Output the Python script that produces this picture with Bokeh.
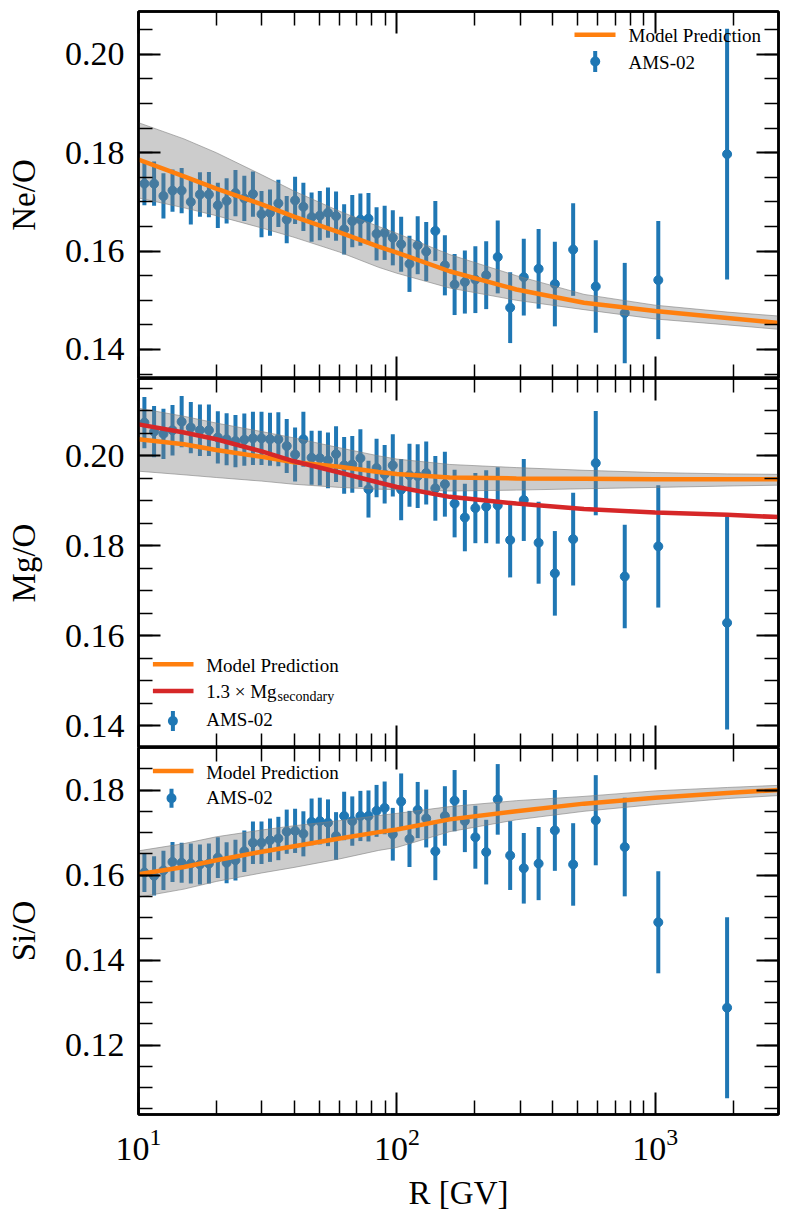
from bokeh.plotting import figure
from bokeh.layouts import column
from bokeh.models import (FixedTicker, LogAxis, LinearAxis, Range1d, PrintfTickFormatter,
                          BoxAnnotation, Label)
from bokeh.embed import file_html
from bokeh.resources import INLINE

# ---------------- data ----------------
# rigidity bin centres [GV] (AMS-02)
R_GV = [10.54, 11.49, 12.49, 13.54, 14.69, 15.94, 17.29, 18.73, 20.28, 21.93,
        23.73, 25.68, 27.73, 29.93, 32.28, 34.78, 37.47, 40.37, 43.47, 46.77,
        50.32, 54.12, 58.16, 62.51, 67.21, 72.25, 77.65, 83.45, 89.69, 96.44,
        103.9, 111.9, 120.4, 129.9, 140.9, 153.4, 167.3, 183.3, 201.3, 221.7,
        245.7, 274.5, 309.9, 353.7, 408.8, 481.2, 588.6, 762.1, 1027.6, 1897.4]

NE_O = [0.1737, 0.1737, 0.1712, 0.1723, 0.1723, 0.1700, 0.1715, 0.1715, 0.1693, 0.1702,
        0.1718, 0.1707, 0.1716, 0.1675, 0.1678, 0.1697, 0.1664, 0.1703, 0.1690, 0.1669,
        0.1672, 0.1678, 0.1671, 0.1644, 0.1661, 0.1664, 0.1666, 0.1635, 0.1637, 0.1627,
        0.1614, 0.1574, 0.1612, 0.1599, 0.1641, 0.1571, 0.1532, 0.1537, 0.1542, 0.1551,
        0.1588, 0.1485, 0.1547, 0.1564, 0.1533, 0.1603, 0.1528, 0.1474, 0.1541, 0.1797]
NE_O_ERR = [0.0044, 0.0045, 0.0046, 0.0043, 0.0046, 0.0046, 0.0045, 0.0046, 0.0046, 0.0046,
            0.0047, 0.0046, 0.0046, 0.0047, 0.0047, 0.0048, 0.0048, 0.0048, 0.0049, 0.0050,
            0.0050, 0.0051, 0.0050, 0.0051, 0.0053, 0.0053, 0.0052, 0.0054, 0.0055, 0.0056,
            0.0056, 0.0057, 0.0059, 0.0060, 0.0061, 0.0061, 0.0062, 0.0064, 0.0068, 0.0069,
            0.0074, 0.0072, 0.0078, 0.0081, 0.0086, 0.0094, 0.0094, 0.0102, 0.0120, 0.0255]

MG_O = [0.2074, 0.2054, 0.2049, 0.2057, 0.2076, 0.2063, 0.2057, 0.2057, 0.2041, 0.2037,
        0.2033, 0.2036, 0.2039, 0.2039, 0.2037, 0.2037, 0.2022, 0.2003, 0.2037, 0.1996,
        0.1995, 0.1990, 0.2004, 0.1979, 0.1981, 0.1995, 0.1926, 0.1973, 0.1959, 0.1979,
        0.1925, 0.1957, 0.1955, 0.1962, 0.1928, 0.1937, 0.1894, 0.1863, 0.1884, 0.1887,
        0.1890, 0.1813, 0.1902, 0.1807, 0.1739, 0.1815, 0.1984, 0.1732, 0.1799, 0.1629]
MG_O_ERR = [0.0057, 0.0057, 0.0056, 0.0056, 0.0057, 0.0057, 0.0057, 0.0057, 0.0058, 0.0058,
            0.0058, 0.0058, 0.0059, 0.0059, 0.0059, 0.0060, 0.0060, 0.0060, 0.0061, 0.0060,
            0.0061, 0.0062, 0.0062, 0.0063, 0.0063, 0.0064, 0.0063, 0.0065, 0.0065, 0.0069,
            0.0068, 0.0070, 0.0071, 0.0070, 0.0072, 0.0072, 0.0075, 0.0075, 0.0078, 0.0081,
            0.0085, 0.0083, 0.0091, 0.0091, 0.0094, 0.0103, 0.0116, 0.0115, 0.0136, 0.0237]

SI_O = [0.1606, 0.1598, 0.1611, 0.1631, 0.1629, 0.1627, 0.1625, 0.1627, 0.1641, 0.1629,
        0.1635, 0.1656, 0.1676, 0.1676, 0.1682, 0.1686, 0.1702, 0.1704, 0.1697, 0.1725,
        0.1727, 0.1723, 0.1692, 0.1739, 0.1727, 0.1739, 0.1739, 0.1751, 0.1758, 0.1696,
        0.1773, 0.1685, 0.1753, 0.1733, 0.1656, 0.1739, 0.1775, 0.1727, 0.1689, 0.1654,
        0.1778, 0.1646, 0.1616, 0.1627, 0.1705, 0.1625, 0.1729, 0.1666, 0.1489, 0.1288]
SI_O_ERR = [0.0046, 0.0046, 0.0046, 0.0047, 0.0047, 0.0047, 0.0047, 0.0047, 0.0048, 0.0048,
            0.0048, 0.0049, 0.0050, 0.0050, 0.0051, 0.0051, 0.0052, 0.0052, 0.0053, 0.0055,
            0.0055, 0.0055, 0.0056, 0.0057, 0.0058, 0.0059, 0.0060, 0.0061, 0.0062, 0.0062,
            0.0066, 0.0066, 0.0066, 0.0068, 0.0068, 0.0070, 0.0072, 0.0073, 0.0074, 0.0076,
            0.0083, 0.0081, 0.0083, 0.0086, 0.0095, 0.0097, 0.0106, 0.0116, 0.0120, 0.0213]

# model curves, sampled in rigidity
MODEL_R = [10, 15, 20, 30, 40, 60, 85, 100, 160, 290, 530, 1000, 1900, 3000]

NE_MODEL = [0.1786, 0.1752, 0.1727, 0.1695, 0.1670, 0.1638, 0.1609, 0.1597, 0.1559, 0.1522,
            0.1495, 0.1478, 0.1464, 0.1454]
NE_UP = [0.1861, 0.1828, 0.1800, 0.1755, 0.1722, 0.1681, 0.1650, 0.1636, 0.1593, 0.1550,
         0.1512, 0.1490, 0.1476, 0.1468]
NE_LO = [0.1708, 0.1688, 0.1672, 0.1647, 0.1628, 0.1598, 0.1567, 0.1555, 0.1525, 0.1500,
         0.1481, 0.1462, 0.1450, 0.1441]

MG_MODEL = [0.2037, 0.2026, 0.2013, 0.1998, 0.1986, 0.1976, 0.1964, 0.1960, 0.1952, 0.1950,
            0.1949, 0.1948, 0.1948, 0.1948]
MG_UP = [0.2106, 0.2088, 0.2073, 0.2054, 0.2040, 0.2018, 0.2000, 0.1993, 0.1981, 0.1974,
         0.1968, 0.1963, 0.1960, 0.1959]
MG_LO = [0.1966, 0.1958, 0.1952, 0.1944, 0.1937, 0.1930, 0.1926, 0.1925, 0.1922, 0.1924,
         0.1927, 0.1930, 0.1933, 0.1935]
MG_SEC = [0.2070, 0.2052, 0.2037, 0.2010, 0.1988, 0.1963, 0.1941, 0.1931, 0.1909, 0.1894,
          0.1882, 0.1874, 0.1869, 0.1864]

SI_MODEL = [0.1602, 0.1619, 0.1635, 0.1655, 0.1668, 0.1686, 0.1701, 0.1707, 0.1731, 0.1750,
            0.1768, 0.1782, 0.1793, 0.1800]
SI_UP = [0.1657, 0.1674, 0.1690, 0.1706, 0.1716, 0.1728, 0.1740, 0.1745, 0.1761, 0.1775,
         0.1785, 0.1798, 0.1806, 0.1811]
SI_LO = [0.1548, 0.1567, 0.1585, 0.1605, 0.1618, 0.1638, 0.1658, 0.1665, 0.1702, 0.1730,
         0.1750, 0.1766, 0.1780, 0.1787]

# axes / ticks
X_LIM = (10, 3000)
X_MAJOR = [10, 100, 1000]
X_MINOR = [20, 30, 40, 50, 60, 70, 80, 90, 200, 300, 400, 500, 600, 700, 800, 900, 2000, 3000]

NE_LIM = (0.1341, 0.2087)
NE_MAJOR = [0.14, 0.16, 0.18, 0.20]
NE_MINOR = [0.135, 0.14, 0.145, 0.15, 0.155, 0.16, 0.165, 0.17, 0.175, 0.18, 0.185, 0.19,
            0.195, 0.20, 0.205]
MG_LIM = (0.1352, 0.2172)
MG_MAJOR = [0.14, 0.16, 0.18, 0.20]
MG_MINOR = [0.14, 0.145, 0.15, 0.155, 0.16, 0.165, 0.17, 0.175, 0.18, 0.185, 0.19, 0.195,
            0.20, 0.205, 0.21, 0.215]
SI_LIM = (0.1037, 0.1900)
SI_MAJOR = [0.12, 0.14, 0.16, 0.18]
SI_MINOR = [0.105, 0.11, 0.115, 0.12, 0.125, 0.13, 0.135, 0.14, 0.145, 0.15, 0.155, 0.16,
            0.165, 0.17, 0.175, 0.18, 0.185]

# ---------------- style ----------------
FONT = "Liberation Serif"
BLUE = "#1f77b4"
ORANGE = "#ff7f0e"
RED = "#d62728"
TICK_FS = "34px"
LABEL_FS = "33px"
LEG_FS = "19px"


def style_axis(ax, major, minor, labels):
    ax.ticker = FixedTicker(ticks=major, minor_ticks=minor)
    ax.major_tick_in = 22
    ax.major_tick_out = 0
    ax.minor_tick_in = 14
    ax.minor_tick_out = 0
    ax.major_tick_line_width = 2
    ax.minor_tick_line_width = 1.5
    ax.major_tick_line_color = "black"
    ax.minor_tick_line_color = "black"
    ax.axis_line_width = 2.5
    ax.axis_line_color = "black"
    if labels:
        ax.major_label_text_font = FONT
        ax.major_label_text_font_size = TICK_FS
        ax.major_label_text_color = "black"
        ax.major_label_standoff = 14
        ax.axis_label_text_font = FONT
        ax.axis_label_text_font_size = LABEL_FS
        ax.axis_label_text_font_style = "normal"
        ax.axis_label_text_color = "black"
        ax.axis_label_standoff = 20
    else:
        ax.major_label_text_font_size = "1px"
        ax.major_label_text_alpha = 0
        ax.major_label_standoff = 0


def make_panel(ylim, ymajor, yminor, ylabel, frame_h, b_top, b_bottom, x_labels):
    p = figure(x_axis_type="log", x_range=Range1d(*X_LIM), y_range=Range1d(*ylim),
               frame_width=640, frame_height=frame_h,
               min_border_left=138, min_border_right=8,
               min_border_top=b_top, min_border_bottom=b_bottom,
               output_backend="svg", toolbar_location=None)
    p.grid.visible = False
    p.outline_line_color = "black"
    p.outline_line_width = 2.5
    p.background_fill_color = "white"
    p.border_fill_color = "white"

    xb = p.below[0]
    style_axis(xb, X_MAJOR, X_MINOR, x_labels)
    if x_labels:
        xb.axis_label = "R [GV]"
        xb.axis_label_standoff = 12
    yl = p.left[0]
    style_axis(yl, ymajor, yminor, True)
    yl.formatter = PrintfTickFormatter(format="%.2f")
    yl.axis_label = ylabel

    xt = LogAxis()
    style_axis(xt, X_MAJOR, X_MINOR, False)
    p.add_layout(xt, "above")
    yr = LinearAxis()
    style_axis(yr, ymajor, yminor, False)
    p.add_layout(yr, "right")
    return p


def data_layer(p, y, err, model_r, lo, up):
    y0 = [a - b for a, b in zip(y, err)]
    y1 = [a + b for a, b in zip(y, err)]
    p.segment(x0=R_GV, y0=y0, x1=R_GV, y1=y1, line_color=BLUE, line_width=4)
    p.scatter(x=R_GV, y=y, size=9, marker="circle", fill_color=BLUE, line_color=BLUE)
    p.varea(x=model_r, y1=lo, y2=up, fill_color="gray", fill_alpha=0.4)
    p.line(model_r, up, line_color="gray", line_alpha=0.6, line_width=1)
    p.line(model_r, lo, line_color="gray", line_alpha=0.6, line_width=1)


def sbox(p, left, right, bottom, top, color, radius=0):
    b = BoxAnnotation(left=left, right=right, bottom=bottom, top=top,
                      left_units="screen", right_units="screen",
                      bottom_units="screen", top_units="screen",
                      fill_color=color, fill_alpha=1.0, line_color=None,
                      level="overlay")
    if radius:
        b.border_radius = radius
    p.add_layout(b)


def leg_line(p, x0, x1, yc, color):
    sbox(p, x0, x1, yc - 2.3, yc + 2.3, color)


def leg_marker(p, xc, yc, half):
    sbox(p, xc - 2, xc + 2, yc - half, yc + half, BLUE)
    sbox(p, xc - 5, xc + 5, yc - 5, yc + 5, BLUE, radius=5)


def leg_text(p, x, yc, text, size=LEG_FS):
    p.add_layout(Label(x=x, y=yc, x_units="screen", y_units="screen", text=text,
                       text_font=FONT, text_font_size=size, text_color="black",
                       text_baseline="middle", text_align="left", level="overlay"))


# ---------------- panel 1: Ne/O ----------------
p1 = make_panel(NE_LIM, NE_MAJOR, NE_MINOR, "Ne/O", 367, 11, 0, False)
data_layer(p1, NE_O, NE_O_ERR, MODEL_R, NE_LO, NE_UP)
p1.line(MODEL_R, NE_MODEL, line_color=ORANGE, line_width=4.5)
leg_line(p1, 436, 477, 343.7, ORANGE)
leg_text(p1, 490, 342.7, "Model Prediction")
leg_marker(p1, 456.7, 317.0, 10.5)
leg_text(p1, 490, 315.7, "AMS-02")

# ---------------- panel 2: Mg/O ----------------
p2 = make_panel(MG_LIM, MG_MAJOR, MG_MINOR, "Mg/O", 369, 0, 0, False)
data_layer(p2, MG_O, MG_O_ERR, MODEL_R, MG_LO, MG_UP)
p2.line(MODEL_R, MG_MODEL, line_color=ORANGE, line_width=4.5)
p2.line(MODEL_R, MG_SEC, line_color=RED, line_width=4.5)
leg_line(p2, 14.4, 55, 83.2, ORANGE)
leg_text(p2, 67.7, 82.5, "Model Prediction")
leg_line(p2, 14.4, 55, 56.5, RED)
leg_text(p2, 67.7, 56.5, "1.3 × Mg")
leg_text(p2, 139, 51.5, "secondary", size="14px")
leg_marker(p2, 34.4, 26.5, 10)
leg_text(p2, 67.7, 28.0, "AMS-02")

# ---------------- panel 3: Si/O ----------------
p3 = make_panel(SI_LIM, SI_MAJOR, SI_MINOR, "Si/O", 367, 0, 100, True)
data_layer(p3, SI_O, SI_O_ERR, MODEL_R, SI_LO, SI_UP)
p3.line(MODEL_R, SI_MODEL, line_color=ORANGE, line_width=4.5)
leg_line(p3, 14.4, 55, 343.5, ORANGE)
leg_text(p3, 67.7, 342.5, "Model Prediction")
leg_marker(p3, 33.0, 316.2, 9.5)
leg_text(p3, 67.7, 316.8, "AMS-02")

layout = column(p1, p2, p3, spacing=0)

open("out.html", "w").write(file_html(layout, INLINE))
